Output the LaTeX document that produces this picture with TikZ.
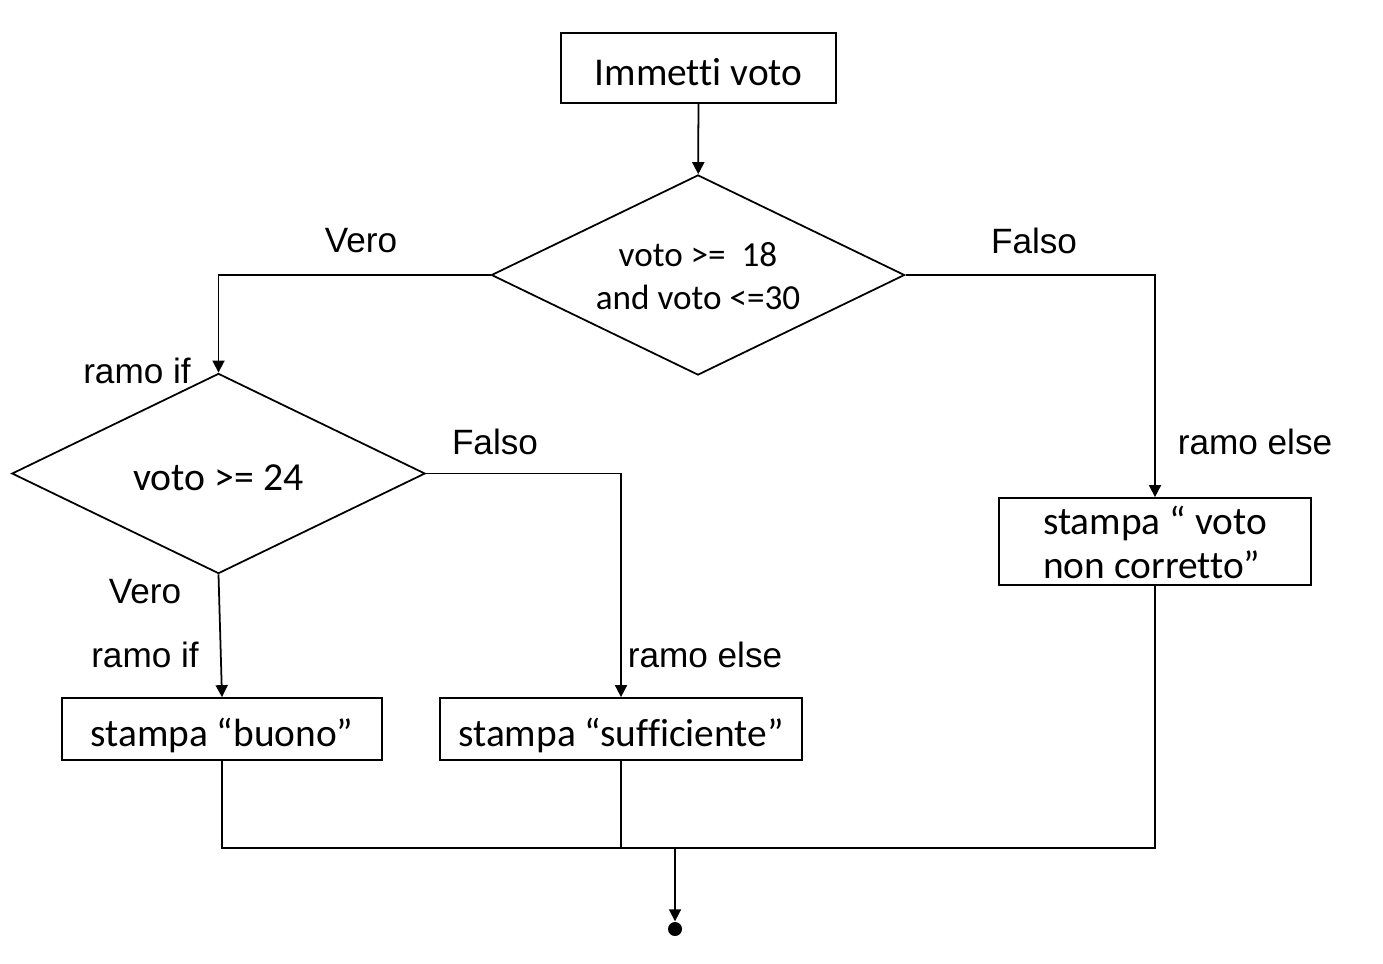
\documentclass[tikz,border=0pt]{standalone}
\usepackage{fontspec}
\setmainfont{Carlito}[Ligatures=CommonOff]
\newfontfamily\arialfont{Liberation Sans}
\usetikzlibrary{shapes.geometric,arrows.meta}

\begin{document}
\begin{tikzpicture}[x=0.01cm,y=-0.01cm]
\tikzstyle{every node}+=[inner sep=0pt]
\tikzstyle{box}=[draw,rectangle,line width=0.5pt,align=center,text height=3.4mm,text depth=0pt,font=\fontsize{11.2}{12.4}\selectfont]
\tikzstyle{test}=[draw,diamond,aspect=2,minimum width=4.13cm,minimum height=2cm,line width=0.5pt,align=center]
\tikzstyle{lbl}=[font=\arialfont\fontsize{10}{12}\selectfont]
\tikzstyle{flow}=[line width=0.5pt,-{Triangle[length=1.2mm,width=1.2mm]}]
\tikzstyle{wire}=[line width=0.5pt]
\useasboundingbox (0,0) rectangle (1383,963);
\node [box,minimum width=2.75cm,minimum height=0.7cm] (input) at (698.5,68) {Immetti voto};
\node [test,text height=6.8mm,text depth=0pt,font=\fontsize{10}{12}\selectfont] (range) at (698,275) {voto >=\ \ 18\\and voto <=30};
\node [test,text height=3.3mm,text depth=0pt,font=\fontsize{11.3}{12}\selectfont] (good) at (218.5,473.5) {voto >= 24};
\node [box,minimum width=3.2cm,minimum height=0.62cm] (buono) at (222,729) {stampa “buono”};
\node [box,minimum width=3.62cm,minimum height=0.62cm] (suff) at (621,729) {stampa “sufficiente”};
\node [box,align=left,text height=7.3mm,minimum width=3.12cm,minimum height=0.87cm] (wrong) at (1155,541.5) {stampa “ voto\\non corretto”};
\node [circle,fill,minimum size=1.4mm] (stop) at (675,929) {};
\coordinate (merge) at (675,848);
\draw [flow] (input) -- (range);
\draw [flow] (range.west) -| (good.north);
\draw [flow] (range.east) -| (wrong.north);
\draw [flow] (good.east) -| (suff.north);
\draw [flow] (good.south) -- (buono.north);
\draw [wire] (buono.south) |- (merge) -| (wrong.south);
\draw [line width=0.3pt] (suff.south) -- (suff.south |- merge);
\draw [flow] (merge) -- (stop.north);
\node [lbl] at (361,241) {Vero};
\node [lbl] at (1034,241) {Falso};
\node [lbl] at (137,371) {ramo if};
\node [lbl] at (495,442) {Falso};
\node [lbl] at (1255,442) {ramo else};
\node [lbl] at (145,592) {Vero};
\node [lbl] at (145,655) {ramo if};
\node [lbl] at (705,655) {ramo else};
\end{tikzpicture}
\end{document}
